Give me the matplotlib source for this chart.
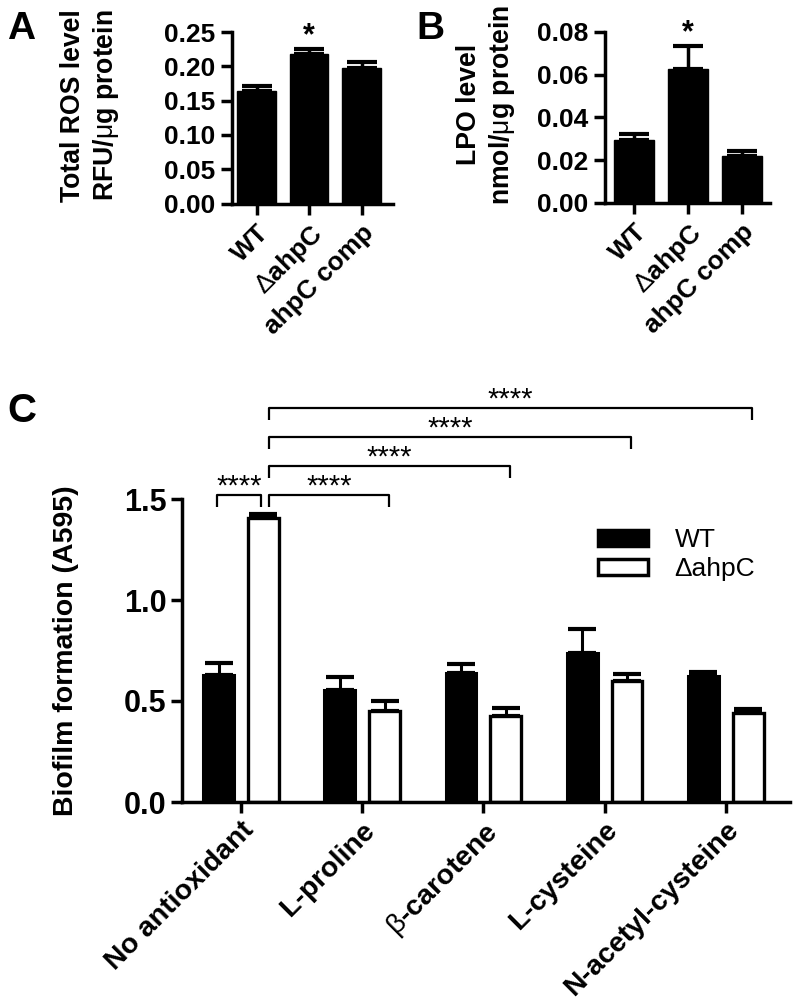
import numpy as np
import matplotlib
matplotlib.use('Agg')
import matplotlib.pyplot as plt
from matplotlib.patches import Patch

plt.rcParams['font.family'] = ['Liberation Sans', 'DejaVu Sans']
plt.rcParams['mathtext.fontset'] = 'custom'
plt.rcParams['mathtext.rm'] = 'Liberation Sans'
plt.rcParams['mathtext.it'] = 'Liberation Sans:italic'
plt.rcParams['mathtext.bf'] = 'Liberation Sans:bold'

# ---------------- data ----------------
strains = ['WT', r'$\mathrm{\Delta}$ahpC', 'ahpC comp']
ros_mean = [0.1645, 0.2175, 0.197]
ros_err = [0.007, 0.0073, 0.0097]
lpo_mean = [0.0293, 0.0627, 0.0219]
lpo_err = [0.0027, 0.0108, 0.0023]

treatments = ['No antioxidant', 'L-proline', r'$\mathrm{\beta}$-carotene',
              'L-cysteine', 'N-acetyl-cysteine']
wt_biofilm = [0.630, 0.555, 0.640, 0.738, 0.624]
wt_biofilm_err = [0.059, 0.065, 0.044, 0.118, 0.020]
ko_biofilm = [1.406, 0.450, 0.427, 0.599, 0.440]
ko_biofilm_err = [0.020, 0.050, 0.038, 0.035, 0.020]

W, H = 795, 1008
fig = plt.figure(figsize=(W / 100, H / 100), dpi=100)

SP = 2.5  # spine width (pt)


def px_axes(x0, x1, ytop, ybot):
    return fig.add_axes([x0 / W, 1 - ybot / H, (x1 - x0) / W, (ybot - ytop) / H])


def style(ax, ytick_fs, xtick_fs, pad=4):
    for s in ['top', 'right']:
        ax.spines[s].set_visible(False)
    for s in ['left', 'bottom']:
        ax.spines[s].set_linewidth(SP)
    ax.tick_params(axis='both', direction='out', length=8, width=SP, pad=pad)
    ax.tick_params(axis='y', labelsize=ytick_fs)
    ax.tick_params(axis='x', labelsize=xtick_fs)
    for lab in ax.get_yticklabels() + ax.get_xticklabels():
        lab.set_fontweight('bold')


def small_panel(ax, means, errs, yticks, fmt, ylabel, xlim, label_x):
    x = np.arange(len(means))
    ax.bar(x, means, width=0.74, color='black', edgecolor='black', linewidth=1, zorder=2)
    ax.errorbar(x, means, yerr=[np.zeros(len(errs)), errs], fmt='none', ecolor='black',
                elinewidth=2.5, capsize=11, capthick=3, zorder=1)
    ax.set_xlim(*xlim)
    ax.set_ylim(yticks[0], yticks[-1])
    ax.set_yticks(yticks)
    ax.set_yticklabels([fmt % v for v in yticks])
    ax.set_xticks(x)
    ax.set_xticklabels(strains, rotation=45, ha='right', va='top',
                       rotation_mode='anchor')
    style(ax, 19, 19)
    ax.set_ylabel(ylabel, fontsize=19.2, fontweight='bold', linespacing=1.22)
    ax.yaxis.set_label_coords(label_x, 0.573)


# Panel A
axA = px_axes(232, 393, 32, 203.5)
small_panel(axA, ros_mean, ros_err, [0.0, 0.05, 0.10, 0.15, 0.20, 0.25], '%.2f',
            'Total ROS level\nRFU/$\\mathrm{\\mu}$g protein', (-0.47, 2.6), -0.69)
axA.text(1, ros_mean[1] + ros_err[1] + 0.019, '*', ha='center', va='center',
         fontsize=22, fontweight='bold', clip_on=False)

# Panel B
axB = px_axes(605, 770, 31.7, 203)
small_panel(axB, lpo_mean, lpo_err, [0.0, 0.02, 0.04, 0.06, 0.08], '%.2f',
            'LPO level\nnmol/$\\mathrm{\\mu}$g protein', (-0.54, 2.52), -0.535)
axB.text(1, lpo_mean[1] + lpo_err[1] + 0.006, '*', ha='center', va='center',
         fontsize=22, fontweight='bold', clip_on=False)

# Panel C
axC = px_axes(182, 790, 499, 802)
x = np.arange(len(treatments))
off, bw = 0.185, 0.255
axC.bar(x - off, wt_biofilm, width=bw, color='black', edgecolor='black', linewidth=2.2,
        zorder=2, label='WT')
axC.bar(x + off, ko_biofilm, width=bw, color='white', edgecolor='black', linewidth=2.4,
        zorder=2, label='\u0394ahpC')
axC.errorbar(x - off, wt_biofilm, yerr=[np.zeros(len(x)), wt_biofilm_err], fmt='none',
             ecolor='black', elinewidth=2.2, capsize=10, capthick=3, zorder=1)
axC.errorbar(x + off, ko_biofilm, yerr=[np.zeros(len(x)), ko_biofilm_err], fmt='none',
             ecolor='black', elinewidth=2.2, capsize=10, capthick=3, zorder=1)
axC.set_xlim(-0.487, 4.53)
axC.set_ylim(0, 1.5)
axC.set_yticks([0.0, 0.5, 1.0, 1.5])
axC.set_yticklabels(['%.1f' % v for v in [0.0, 0.5, 1.0, 1.5]])
axC.set_xticks(x)
axC.set_xticklabels(treatments, rotation=45, ha='right', va='top',
                    rotation_mode='anchor')
style(axC, 22, 20.5, pad=3)
axC.set_ylabel('Biofilm formation (A595)', fontsize=20.5, fontweight='bold')
axC.yaxis.set_label_coords(-0.17, 0.5)

leg = axC.legend(handles=[Patch(facecolor='black', edgecolor='black', linewidth=2.5, label='WT'),
                          Patch(facecolor='white', edgecolor='black', linewidth=2.5,
                                label='\u0394ahpC')],
                 loc='upper left', bbox_to_anchor=(598 / W, 1 - 528 / H),
                 bbox_transform=fig.transFigure, frameon=False, fontsize=19,
                 handlelength=1.9, handleheight=0.55, handletextpad=1.0,
                 labelspacing=0.2, borderpad=0, borderaxespad=0)

# significance brackets
leg_h = 0.06
lw_b = 1.6


def bracket(x1, x2, y, h=leg_h):
    axC.plot([x1, x1, x2, x2], [y - h, y, y, y - h], color='black', lw=lw_b,
             clip_on=False, solid_capstyle='butt')
    axC.text((x1 + x2) / 2, y + 0.003, '****', ha='center', va='baseline',
             fontsize=21, clip_on=False)


bracket(-0.2, 0.165, 1.52)
levels = [1.52, 1.663, 1.807, 1.95]
for k, yl in zip(range(1, 5), levels):
    bracket(0.23, k + 0.22, yl)

# panel letters
fig.text(7 / W, 1 - 39 / H, 'A', fontsize=28, fontweight='bold', va='baseline')
fig.text(416 / W, 1 - 39 / H, 'B', fontsize=28, fontweight='bold', va='baseline')
fig.text(7 / W, 1 - 422 / H, 'C', fontsize=29, fontweight='bold', va='baseline')

fig.savefig('out.png', dpi=100)
